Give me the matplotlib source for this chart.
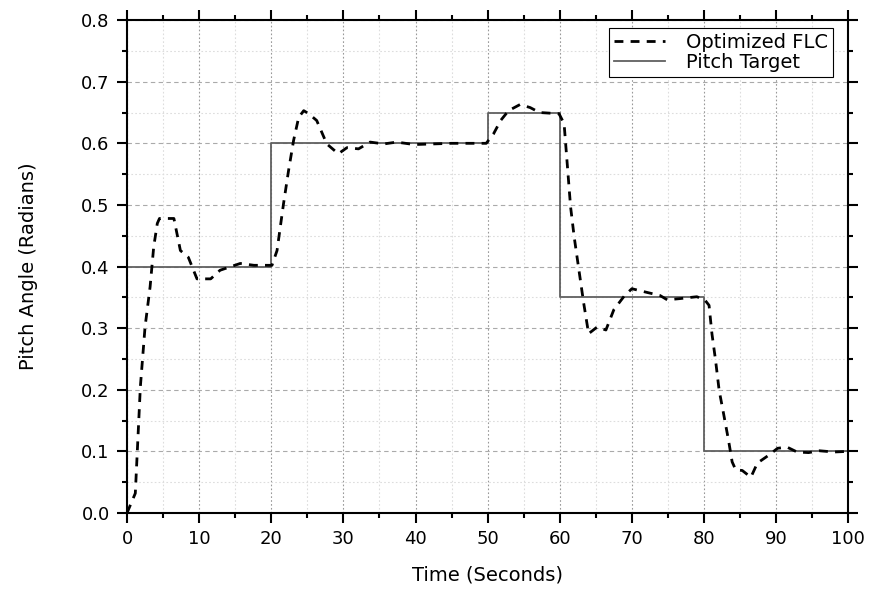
import numpy as np
import matplotlib.pyplot as plt
from matplotlib.ticker import MultipleLocator

plt.rcParams['font.family'] = ['DejaVu Sans']

# pitch target: step levels held between switching times
target_t = [0, 20, 20, 50, 50, 60, 60, 80, 80, 100]
target_y = [0.4, 0.4, 0.6, 0.6, 0.65, 0.65, 0.35, 0.35, 0.1, 0.1]

# optimized FLC response
flc_t = [0.0, 1.15, 1.85, 2.5, 3.2, 3.7, 4.2, 4.5, 6.5, 7.4, 8.5, 9.7, 11.6,
         12.9, 15.7, 17.6, 20.1, 20.8, 21.7, 22.4, 23.1, 23.8, 24.5, 25.2,
         26.3, 27.7, 29.3, 30.5, 32.1, 33.7, 35.6, 37.4, 39.8, 45.0, 49.8,
         50.8, 51.8, 52.9, 54.5, 55.9, 57.2, 59.9, 60.6, 61.0, 61.5, 62.0,
         62.6, 63.3, 64.0, 65.2, 66.4, 67.5, 69.0, 70.0, 72.1, 73.9, 74.9,
         76.7, 79.0, 80.1, 80.7, 81.1, 81.6, 82.1, 82.7, 83.4, 83.9, 84.4,
         85.3, 86.5, 87.4, 89.0, 90.2, 91.5, 92.9, 94.5, 96.0, 98.0, 100.0]
flc_y = [0.0, 0.032, 0.205, 0.302, 0.367, 0.432, 0.47, 0.478, 0.478, 0.426,
         0.415, 0.38, 0.38, 0.394, 0.405, 0.402, 0.402, 0.426, 0.502, 0.556,
         0.605, 0.642, 0.653, 0.648, 0.637, 0.599, 0.583, 0.593, 0.591, 0.602,
         0.599, 0.602, 0.598, 0.600, 0.600, 0.615, 0.637, 0.653, 0.663, 0.658,
         0.65, 0.648, 0.632, 0.572, 0.497, 0.448, 0.399, 0.342, 0.291, 0.302,
         0.297, 0.33, 0.353, 0.364, 0.358, 0.353, 0.346, 0.348, 0.351, 0.346,
         0.337, 0.291, 0.248, 0.199, 0.162, 0.118, 0.083, 0.07, 0.069, 0.058,
         0.081, 0.094, 0.105, 0.107, 0.099, 0.098, 0.101, 0.099, 0.1]

fig = plt.figure(figsize=(8.7, 5.91), dpi=100)
ax = fig.add_axes([0.146, 0.132, 0.829, 0.834])

ax.plot(flc_t, flc_y, color='black', linestyle=(0, (3.2, 2.6)), linewidth=2.0,
        label='Optimized FLC', zorder=3)
ax.plot(target_t, target_y, color='#606060', linewidth=1.3,
        label='Pitch Target', zorder=2)

ax.set_xlim(0, 100)
ax.set_ylim(0, 0.8)
ax.xaxis.set_major_locator(MultipleLocator(10))
ax.xaxis.set_minor_locator(MultipleLocator(5))
ax.yaxis.set_major_locator(MultipleLocator(0.1))
ax.yaxis.set_minor_locator(MultipleLocator(0.05))
ax.yaxis.set_major_formatter(plt.FormatStrFormatter('%.1f'))

ax.grid(which='major', axis='x', color='#999999', linestyle=(0, (1.5, 2)), linewidth=0.8)
ax.grid(which='minor', axis='x', color='#dddddd', linestyle=(0, (1.5, 2)), linewidth=0.8)
ax.grid(which='major', axis='y', color='#aaaaaa', linestyle=(0, (4, 3)), linewidth=0.8)
ax.grid(which='minor', axis='y', color='#dddddd', linestyle=(0, (1.5, 2)), linewidth=0.8)
ax.set_axisbelow(True)

for s in ax.spines.values():
    s.set_linewidth(1.5)
ax.tick_params(which='both', direction='out', top=True, right=True, width=1.5)
ax.tick_params(which='major', length=7.5, labelsize=13, pad=5)
ax.tick_params(which='minor', length=3.5)

ax.set_xlabel('Time (Seconds)', fontsize=14, labelpad=12)
ax.set_ylabel('Pitch Angle (Radians)', fontsize=14, labelpad=31)

leg = ax.legend(loc='upper right', bbox_to_anchor=(0.979, 0.984), fontsize=14,
                fancybox=False, framealpha=1, edgecolor='black',
                handlelength=2.6, handletextpad=1.1, borderpad=0.25,
                labelspacing=0.05, borderaxespad=0)
leg.get_frame().set_linewidth(0.8)

fig.savefig('out.png', dpi=100)
